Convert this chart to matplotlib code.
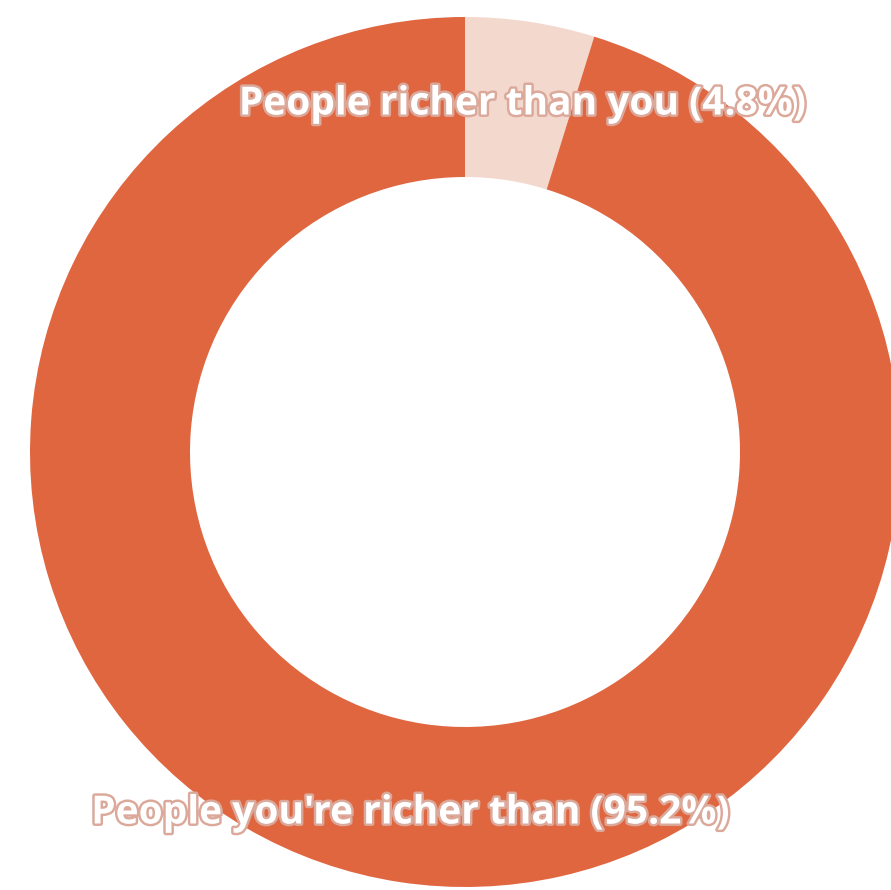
import matplotlib
matplotlib.use("Agg")
import matplotlib.pyplot as plt
import matplotlib.patheffects as pe

labels = ["People richer than you", "People you're richer than"]
shares = [4.8, 95.2]
colors = ["#f3d8ce", "#e06640"]

W, H = 891, 890
fig = plt.figure(figsize=(W / 100, H / 100), dpi=100)
ax = fig.add_axes([0, 0, 1, 1])

# donut, pixel units, partly cut off on the right and bottom
ax.pie(shares, colors=colors, startangle=90, counterclock=False,
       center=(465, 438), radius=435, frame=True,
       wedgeprops=dict(width=160, linewidth=0))
ax.set_xlim(0, W)
ax.set_ylim(0, H)
ax.set_aspect("equal")
ax.axis("off")

outline = [pe.withStroke(linewidth=3.5, foreground="#dba89a")]
txt = dict(color="white", fontsize=28, fontweight="bold", family="Open Sans",
           ha="center", va="center", path_effects=outline)
ax.text(522, 786, "{} ({}%)".format(labels[0], shares[0]), **txt)
ax.text(410, 77, "{} ({}%)".format(labels[1], shares[1]), **txt)

fig.savefig("out.png", dpi=100, facecolor="white")
